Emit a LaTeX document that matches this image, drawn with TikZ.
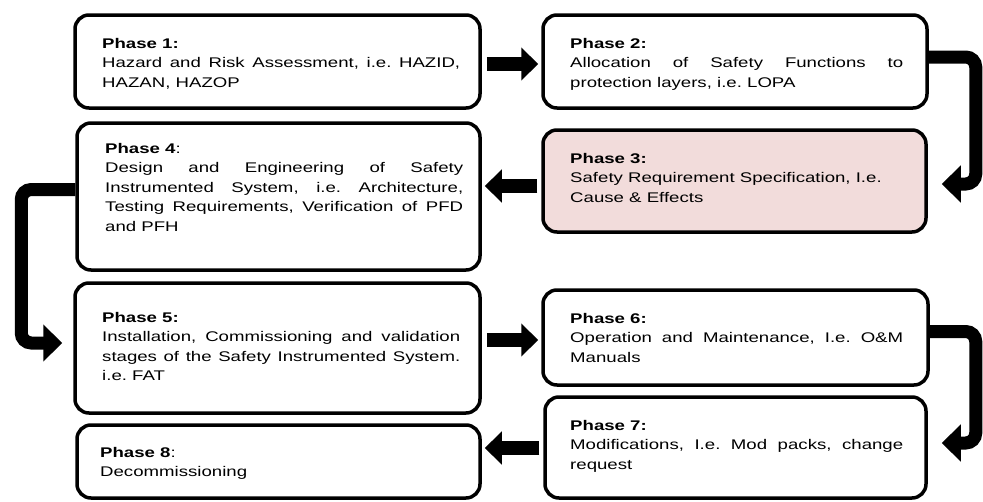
\documentclass[tikz,border=0pt]{standalone}
\usepackage{fontspec}
\setmainfont{Liberation Sans}[FakeStretch=1.33]
\usetikzlibrary{arrows.meta,calc}
\definecolor{pinkfill}{RGB}{242,220,219}
\frenchspacing
\hyphenpenalty=10000
\exhyphenpenalty=10000
\begin{document}
\begin{tikzpicture}[x=1pt,y=-1pt,
  phasebox/.style={draw=black, line width=3.5pt, rounded corners=14pt, fill=white, inner sep=0pt},
  phasetext/.style={anchor=north west, inner sep=0pt, align=justify, font=\fontsize{14}{19.5}\selectfont},
  lefttext/.style={phasetext, text width=358pt},
  righttext/.style={phasetext, text width=333pt},
  blockarrow/.style={line width=14pt, -{Triangle[length=17pt,width=32pt]}},
  elbowarrow/.style={line width=13pt, rounded corners=10pt, -{Triangle[length=19pt,width=36pt]}}
]
\useasboundingbox (0,0) rectangle (983,501);

% boxes
\node[phasebox, minimum width=405pt, minimum height=93pt]  (p1) at (277.5,61.5) {};
\node[phasebox, minimum width=384pt, minimum height=93pt]  (p2) at (735,61.5) {};
\node[phasebox, fill=pinkfill, minimum width=383pt, minimum height=102pt] (p3) at (734.5,181) {};
\node[phasebox, minimum width=403pt, minimum height=147pt] (p4) at (278.5,196.5) {};
\node[phasebox, minimum width=405pt, minimum height=130pt] (p5) at (277.5,348) {};
\node[phasebox, minimum width=385pt, minimum height=95pt]  (p6) at (735.5,337.5) {};
\node[phasebox, minimum width=381pt, minimum height=101pt] (p7) at (735.5,447.5) {};
\node[phasebox, minimum width=403pt, minimum height=73pt]  (p8) at (278.5,461.5) {};

% texts
\node[lefttext] (t1) at (102,38) {\textbf{Phase 1:}\newline Hazard and Risk Assessment, i.e. HAZID, HAZAN, HAZOP};
\node[righttext] (t2) at (570,38) {\textbf{Phase 2:}\newline Allocation of Safety Functions to protection layers, i.e. LOPA};
\node[righttext] (t3) at (570,153) {\textbf{Phase 3:}\newline Safety Requirement Specification, I.e.\newline Cause \& Effects};
\node[lefttext] (t4) at (105,143) {\textbf{Phase 4}:\newline Design and Engineering of Safety Instrumented System, i.e. Architecture, Testing Requirements, Verification of PFD and PFH};
\node[lefttext] (t5) at (102,312) {\textbf{Phase 5:}\newline Installation, Commissioning and validation stages of the Safety Instrumented System. i.e. FAT};
\node[righttext] (t6) at (570,313) {\textbf{Phase 6:}\newline Operation and Maintenance, I.e. O\&M Manuals};
\node[righttext] (t7) at (570,420) {\textbf{Phase 7:}\newline Modifications, I.e. Mod packs, change request};
\node[lefttext] (t8) at (100,447) {\textbf{Phase 8}:\newline Decommissioning};

% straight arrows
\draw[blockarrow] ([xshift=5pt,yshift=-2.5pt]p1.east) -- ([xshift=-3pt,yshift=-2.5pt]p2.west);
\draw[blockarrow] ([xshift=-4pt,yshift=-5pt]p3.west) -- ([xshift=3pt,yshift=10.5pt]p4.east);
\draw[blockarrow] ([xshift=5pt,yshift=8pt]p5.east) -- ([xshift=-3pt,yshift=-2.5pt]p6.west);
\draw[blockarrow] ([xshift=-4pt,yshift=-0.5pt]p7.west) -- ([xshift=3pt,yshift=13.5pt]p8.east);

% elbow arrows
\draw[elbowarrow] ([yshift=4.5pt]p2.east) -- ++(47,0) |- ([xshift=14pt,yshift=-3pt]p3.east);
\draw[elbowarrow] ([yshift=7pt]p4.west) -- ++(-54,0) |- ([xshift=-11pt,yshift=5pt]p5.west);
\draw[elbowarrow] ([yshift=6pt]p6.east) -- ++(46,0) |- ([xshift=14pt,yshift=4.5pt]p7.east);
\end{tikzpicture}
\end{document}
